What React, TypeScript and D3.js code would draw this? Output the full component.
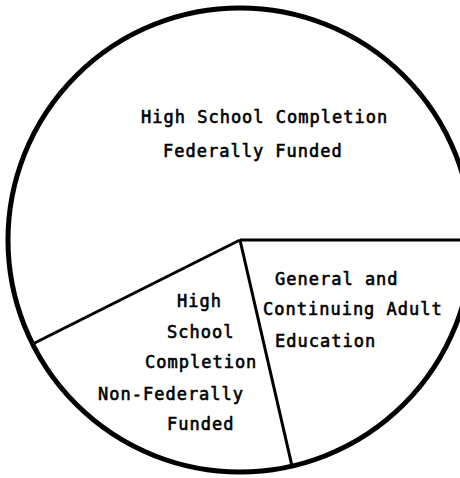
import { useMemo } from "react";
import * as d3 from "d3";

// slice shares (clockwise from 3 o'clock)
const categories = [
  "General and Continuing Adult Education",
  "High School Completion Non-Federally Funded",
  "High School Completion Federally Funded",
];
const shares = [21.4, 21.2, 57.4];

// label lines as printed in each slice
const labelLines = [
  ["General and", "Continuing Adult", "Education"],
  ["High", "School", "Completion", "Non-Federally", "Funded"],
  ["High School Completion", "Federally Funded"],
];

// hand-placed label line positions (start x, baseline y)
const labelPos = [
  [[275, 285], [263, 315], [275, 347]],
  [[177, 307], [167, 338], [145, 368], [98, 400], [167, 430]],
  [[141, 123], [163, 157]],
];

const W = 460;
const H = 478;
const cx = 240;
const cy = 240;
const R = 232;

export default function App() {
  const arcs = useMemo(() => {
    const pie = d3
      .pie<number>()
      .value((d) => d)
      .sort(null)
      .startAngle(Math.PI / 2)
      .endAngle(Math.PI / 2 + 2 * Math.PI);
    return pie(shares);
  }, []);

  const arc = d3.arc<d3.PieArcDatum<number>>().innerRadius(0).outerRadius(R);

  return (
    <svg
      width={W}
      height={H}
      style={{ position: "absolute", left: 0, top: 0, background: "#fff" }}
    >
      <g transform={`translate(${cx},${cy})`}>
        {arcs.map((a, i) => (
          <path key={categories[i]} d={arc(a) ?? ""} fill="#fff" stroke="none" />
        ))}
        {/* radial dividers */}
        {arcs.map((a, i) => (
          <line
            key={"l" + i}
            x1={0}
            y1={0}
            x2={R * Math.sin(a.startAngle)}
            y2={-R * Math.cos(a.startAngle)}
            stroke="#000"
            strokeWidth={3}
          />
        ))}
        <circle r={R} fill="none" stroke="#000" strokeWidth={5} />
      </g>
      {labelLines.map((lines, i) =>
        lines.map((t, j) => (
          <text
            key={i + "-" + j}
            x={labelPos[i][j][0]}
            y={labelPos[i][j][1]}
            fontFamily="DejaVu Sans Mono"
            fontSize={17}
            letterSpacing={1}
            fill="#000"
            stroke="#000"
            strokeWidth={0.6}
          >
            {t}
          </text>
        ))
      )}
    </svg>
  );
}
